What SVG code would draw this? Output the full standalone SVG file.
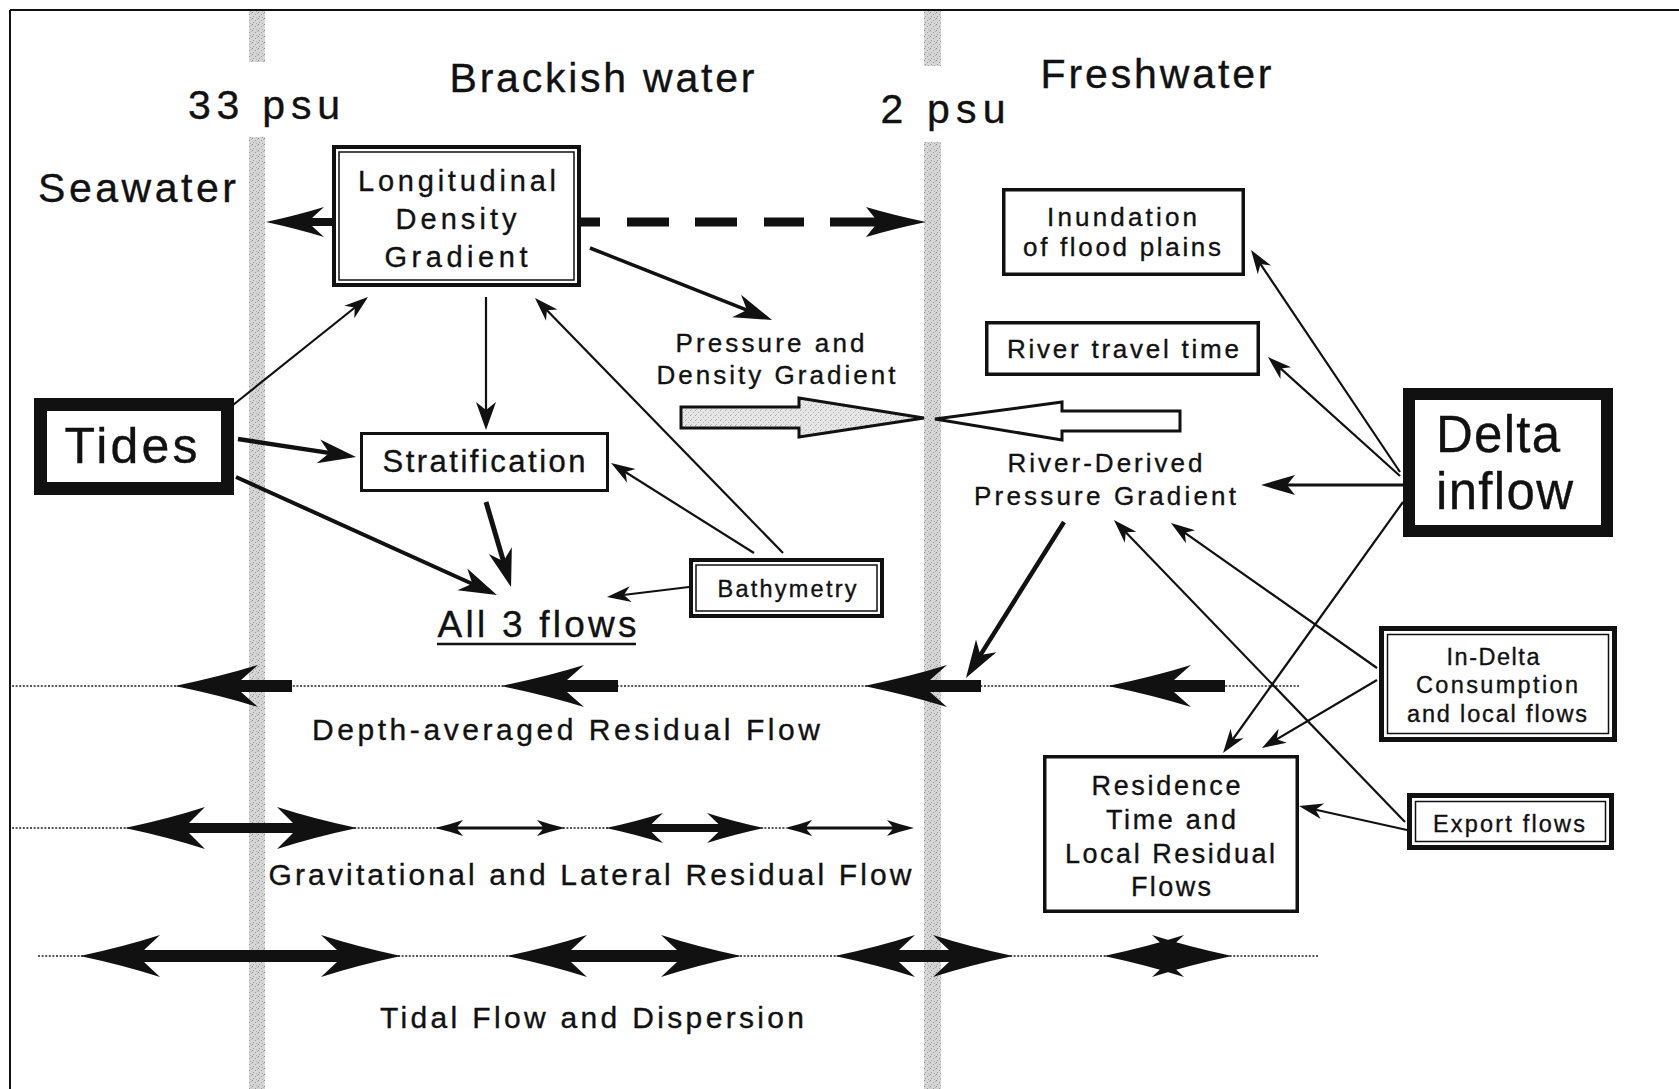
<svg xmlns="http://www.w3.org/2000/svg" width="1679" height="1089" viewBox="0 0 1679 1089">
<style>
text{font-family:"Liberation Sans",Arial,Helvetica,sans-serif;fill:#111;stroke:#111;stroke-width:0.35;}
.h1{font-size:41px;}
.ld{font-size:29px;}
.md{font-size:26px;}
.sm{font-size:23.5px;}
.rs{font-size:27px;}
.row{font-size:30px;}
.c{text-anchor:middle;}
.box{fill:#fff;stroke:#111;}
.thin{fill:none;stroke:#111;stroke-width:2.2;}
.dots{fill:none;stroke:#222;stroke-width:1.6;stroke-dasharray:2 1.6;}
.blk{fill:#111;stroke:none;}
</style>
<defs>
<pattern id="stip" width="6" height="6" patternUnits="userSpaceOnUse">
<rect width="6" height="6" fill="#d6d6d6"/>
<rect x="0" y="0" width="1" height="1" fill="#888"/>
<rect x="3" y="2" width="1" height="1" fill="#999"/>
<rect x="1" y="4" width="1" height="1" fill="#9a9a9a"/>
<rect x="4" y="5" width="1" height="1" fill="#aaa"/>
<rect x="5" y="1" width="1" height="1" fill="#b0b0b0"/>
</pattern>
<pattern id="stip2" width="5" height="5" patternUnits="userSpaceOnUse">
<rect width="5" height="5" fill="#e6e6e6"/>
<rect x="0" y="0" width="1" height="1" fill="#aaa"/>
<rect x="3" y="2" width="1" height="1" fill="#b5b5b5"/>
<rect x="1" y="4" width="1" height="1" fill="#bbb"/>
</pattern>
<marker id="mS" markerUnits="userSpaceOnUse" orient="auto" refX="-8" refY="0" markerWidth="30" markerHeight="20" overflow="visible">
<path d="M0,0 L-24,-8 L-17,0 L-24,8 Z" fill="#111"/>
</marker>
<marker id="mM" markerUnits="userSpaceOnUse" orient="auto" refX="-10" refY="0" markerWidth="30" markerHeight="20" overflow="visible">
<path d="M0,0 L-28,-10 L-20,0 L-28,10 Z" fill="#111"/>
</marker>
<marker id="mD" markerUnits="userSpaceOnUse" orient="auto" refX="-12" refY="0" markerWidth="40" markerHeight="24" overflow="visible">
<path d="M0,0 L-34,-10 L-26,0 L-34,10 Z" fill="#111"/>
</marker>
<marker id="mL" markerUnits="userSpaceOnUse" orient="auto" refX="-14" refY="0" markerWidth="40" markerHeight="30" overflow="visible">
<path d="M0,0 L-38,-12 L-27,0 L-38,12 Z" fill="#111"/>
</marker>
<path id="ra" d="M0,0 Q46,-9.5 83,-21 L66,-6 L117,-6 L117,6 L66,6 L83,21 Q46,9.5 0,0 Z"/>
</defs>

<rect width="1679" height="1089" fill="#fff"/>

<g id="salinity-bands">
<rect x="249" y="10" width="16" height="52" fill="url(#stip)"/>
<rect x="249" y="137" width="16" height="952" fill="url(#stip)"/>
<rect x="924" y="10" width="17" height="56" fill="url(#stip)"/>
<rect x="924" y="142" width="17" height="947" fill="url(#stip)"/>
</g>

<g id="frame">
<line x1="10" y1="10" x2="1679" y2="10" stroke="#111" stroke-width="2"/>
<line x1="10" y1="10" x2="10" y2="1089" stroke="#111" stroke-width="2"/>
</g>

<g id="region-labels">
<text class="h1 c" x="137" y="202" textLength="198" lengthAdjust="spacing">Seawater</text>
<text class="h1 c" x="264" y="119" textLength="152" lengthAdjust="spacing">33 psu</text>
<text class="h1 c" x="602" y="92" textLength="305" lengthAdjust="spacing">Brackish water</text>
<text class="h1 c" x="943" y="123" textLength="125" lengthAdjust="spacing">2 psu</text>
<text class="h1 c" x="1156" y="88" textLength="231" lengthAdjust="spacing">Freshwater</text>
</g>

<g id="flow-rows">
<g id="row-depth-averaged">
<line class="dots" x1="12" y1="686" x2="1299" y2="686"/>
<use href="#ra" x="175" y="686" class="blk"/>
<use href="#ra" x="501" y="686" class="blk"/>
<use href="#ra" x="864" y="686" class="blk"/>
<use href="#ra" x="1108" y="686" class="blk"/>
<text class="row c" x="566" y="740" textLength="508" lengthAdjust="spacing">Depth-averaged Residual Flow</text>
</g>
<g id="row-gravitational">
<line class="dots" x1="12" y1="828" x2="785" y2="828"/>
<path class="blk" d="M125,828 Q169,818.6 205,807 L189,823 L293,823 L277,807 Q313,818.6 357,828 Q313,837.4 277,849 L293,833 L189,833 L205,849 Q169,837.4 125,828 Z"/>
<path class="blk" d="M435,828 Q450.4,824.4 463,820 L457.4,826.5 L542.6,826.5 L537,820 Q549.6,824.4 565,828 Q549.6,831.6 537,836 L542.6,829.5 L457.4,829.5 L463,836 Q450.4,831.6 435,828 Z"/>
<path class="blk" d="M606,828 Q637.4,821.3 663,813 L651.6,824 L718.4,824 L707,813 Q732.6,821.3 764,828 Q732.6,834.8 707,843 L718.4,832 L651.6,832 L663,843 Q637.4,834.8 606,828 Z"/>
<path class="blk" d="M785,828 Q799.9,824.4 812,820 L806.6,826.5 L892.4,826.5 L887,820 Q899.2,824.4 914,828 Q899.2,831.6 887,836 L892.4,829.5 L806.6,829.5 L812,836 Q799.9,831.6 785,828 Z"/>
<text class="row c" x="590" y="885" textLength="643" lengthAdjust="spacing">Gravitational and Lateral Residual Flow</text>
</g>
<g id="row-tidal">
<line class="dots" x1="38" y1="956" x2="1319" y2="956"/>
<path class="blk" d="M80,956 Q124,946.6 160,935 L144,950 L337,950 L321,935 Q357,946.6 401,956 Q357,965.4 321,977 L337,962 L144,962 L160,977 Q124,965.4 80,956 Z"/>
<path class="blk" d="M507,956 Q551,946.6 587,935 L571,950 L677,950 L661,935 Q697,946.6 741,956 Q697,965.4 661,977 L677,962 L571,962 L587,977 Q551,965.4 507,956 Z"/>
<path class="blk" d="M835,956 Q879,946.6 915,935 L899,950 L949,950 L933,935 Q969,946.6 1013,956 Q969,965.4 933,977 L949,962 L899,962 L915,977 Q879,965.4 835,956 Z"/>
<path class="blk" d="M1104,956 Q1148,946.6 1184,935 L1168,950 L1168,962 L1184,977 Q1148,965.4 1104,956 Z"/>
<path class="blk" d="M1232,956 Q1188,946.6 1152,935 L1168,950 L1168,962 L1152,977 Q1188,965.4 1232,956 Z"/>
<text class="row c" x="592" y="1028" textLength="424" lengthAdjust="spacing">Tidal Flow and Dispersion</text>
</g>
</g>

<g id="pressure-arrows">
<path d="M681,407 L799,407 L799,398 L924,418 L799,437 L799,428 L681,428 Z" fill="url(#stip2)" stroke="#111" stroke-width="3" stroke-linejoin="miter"/>
<path d="M935,419 L1062,402 L1062,411 L1180,411 L1180,431 L1062,431 L1062,440 Z" fill="#fff" stroke="#111" stroke-width="3" stroke-linejoin="miter"/>
</g>

<g id="connectors">
<path class="blk" d="M266,222 Q298,215 324,207 L312,218 L332,218 L332,226 L312,226 L324,237 Q298,229 266,222 Z"/>
<g class="blk">
<rect x="581" y="217.5" width="19" height="9"/>
<rect x="627" y="217.5" width="42" height="9"/>
<rect x="695" y="217.5" width="42" height="9"/>
<rect x="764" y="217.5" width="40" height="9"/>
<rect x="830" y="217.5" width="48" height="9"/>
<path d="M926,222 Q893,215 866,207 L878,222 L866,237 Q893,229 926,222 Z"/>
</g>
<line x1="590" y1="248" x2="759" y2="314.8" fill="none" stroke="#111" stroke-width="3.5" marker-end="url(#mL)"/>
<line class="thin" x1="486" y1="297" x2="486" y2="420" marker-end="url(#mM)"/>
<line class="thin" x1="233" y1="405" x2="361.8" y2="302" marker-end="url(#mS)"/>
<line x1="238" y1="439" x2="342.2" y2="454.9" fill="none" stroke="#111" stroke-width="4.5" marker-end="url(#mL)"/>
<line x1="236" y1="477" x2="484.2" y2="589.2" fill="none" stroke="#111" stroke-width="4" marker-end="url(#mL)"/>
<line x1="486" y1="502" x2="507.1" y2="573.6" fill="none" stroke="#111" stroke-width="5" marker-end="url(#mL)"/>
<line class="thin" x1="689" y1="587" x2="614.9" y2="596" marker-end="url(#mS)"/>
<line class="thin" x1="754" y1="553" x2="617.8" y2="467.3" marker-end="url(#mS)"/>
<line class="thin" x1="783" y1="553" x2="540.6" y2="303.7" marker-end="url(#mS)"/>
<line x1="1064" y1="522" x2="973.4" y2="666.1" fill="none" stroke="#111" stroke-width="4.5" marker-end="url(#mL)"/>
<line class="thin" x1="1400" y1="472" x2="1255.5" y2="256.6" marker-end="url(#mS)"/>
<line class="thin" x1="1400" y1="476" x2="1273.9" y2="362.4" marker-end="url(#mS)"/>
<line x1="1403" y1="485" x2="1273" y2="485" fill="none" stroke="#111" stroke-width="3" marker-end="url(#mD)"/>
<line class="thin" x1="1403" y1="502" x2="1227.7" y2="746.5" marker-end="url(#mS)"/>
<line class="thin" x1="1377" y1="668" x2="1177.5" y2="527.6" marker-end="url(#mS)"/>
<line class="thin" x1="1377" y1="680" x2="1268.9" y2="743.9" marker-end="url(#mS)"/>
<line class="thin" x1="1405" y1="822" x2="1119.5" y2="525.8" marker-end="url(#mS)"/>
<line class="thin" x1="1407" y1="830" x2="1306.8" y2="807.8" marker-end="url(#mS)"/>
</g>

<g id="node-longitudinal">
<rect class="box" x="334" y="147" width="245" height="138" stroke-width="4"/>
<rect x="339" y="152" width="235" height="128" fill="none" stroke="#111" stroke-width="1.5"/>
<text class="ld c" x="457" y="191" textLength="198" lengthAdjust="spacing">Longitudinal</text>
<text class="ld c" x="456" y="229" textLength="121" lengthAdjust="spacing">Density</text>
<text class="ld c" x="456" y="267" textLength="143" lengthAdjust="spacing">Gradient</text>
</g>

<g id="node-stratification">
<rect class="box" x="361.5" y="433.5" width="246" height="57" stroke-width="3"/>
<text class="c" x="484" y="472" font-size="31" textLength="203" lengthAdjust="spacing">Stratification</text>
</g>

<g id="node-tides">
<rect class="box" x="40.5" y="404.5" width="187" height="84" stroke-width="13"/>
<text class="c" x="131" y="463" font-size="50" textLength="133" lengthAdjust="spacing">Tides</text>
</g>

<g id="node-all3flows">
<text class="c" x="537" y="637" font-size="37" textLength="199" lengthAdjust="spacing">All 3 flows</text>
<line x1="437" y1="644" x2="636" y2="644" stroke="#111" stroke-width="2.5"/>
</g>

<g id="node-bathymetry">
<rect class="box" x="691" y="560" width="191" height="56" stroke-width="4"/>
<rect x="696" y="565" width="181" height="46" fill="none" stroke="#111" stroke-width="1.5"/>
<text class="sm c" x="787" y="597" textLength="139" lengthAdjust="spacing">Bathymetry</text>
</g>

<g id="node-pressure-density">
<text class="md c" x="770" y="352" textLength="189" lengthAdjust="spacing">Pressure and</text>
<text class="md c" x="776" y="384" textLength="239" lengthAdjust="spacing">Density Gradient</text>
</g>

<g id="node-river-derived">
<text class="md c" x="1105" y="472" textLength="195" lengthAdjust="spacing">River-Derived</text>
<text class="md c" x="1105" y="505" textLength="262" lengthAdjust="spacing">Pressure Gradient</text>
</g>

<g id="node-inundation">
<rect class="box" x="1003.75" y="189.75" width="239.5" height="84.5" stroke-width="3.5"/>
<text class="md c" x="1122" y="226" textLength="150" lengthAdjust="spacing">Inundation</text>
<text class="md c" x="1122" y="256" textLength="198" lengthAdjust="spacing">of flood plains</text>
</g>

<g id="node-river-travel-time">
<rect class="box" x="986.75" y="322.75" width="271.5" height="51.5" stroke-width="3.5"/>
<text class="md c" x="1123" y="358" textLength="232" lengthAdjust="spacing">River travel time</text>
</g>

<g id="node-delta-inflow">
<rect class="box" x="1409" y="394" width="198" height="137" stroke-width="12"/>
<text x="1436" y="452" font-size="51" textLength="124" lengthAdjust="spacing">Delta</text>
<text x="1436" y="509" font-size="51" textLength="137" lengthAdjust="spacing">inflow</text>
</g>

<g id="node-in-delta">
<rect class="box" x="1381.5" y="628.5" width="233" height="111" stroke-width="5"/>
<rect x="1387.5" y="634.5" width="221" height="99" fill="none" stroke="#111" stroke-width="1.5"/>
<text class="sm c" x="1493" y="665" textLength="93" lengthAdjust="spacing">In-Delta</text>
<text class="sm c" x="1497" y="693" textLength="162" lengthAdjust="spacing">Consumption</text>
<text class="sm c" x="1497" y="722" textLength="180" lengthAdjust="spacing">and local flows</text>
</g>

<g id="node-export-flows">
<rect class="box" x="1409.5" y="795.5" width="202" height="52" stroke-width="5"/>
<rect x="1415.5" y="801.5" width="190" height="40" fill="none" stroke="#111" stroke-width="1.5"/>
<text class="sm c" x="1509" y="832" textLength="152" lengthAdjust="spacing">Export flows</text>
</g>

<g id="node-residence">
<rect class="box" x="1044.75" y="756.75" width="252.5" height="154.5" stroke-width="3.5"/>
<text class="rs c" x="1166" y="795" textLength="149" lengthAdjust="spacing">Residence</text>
<text class="rs c" x="1171" y="829" textLength="130" lengthAdjust="spacing">Time and</text>
<text class="rs c" x="1170" y="863" textLength="210" lengthAdjust="spacing">Local Residual</text>
<text class="rs c" x="1171" y="896" textLength="80" lengthAdjust="spacing">Flows</text>
</g>
</svg>
